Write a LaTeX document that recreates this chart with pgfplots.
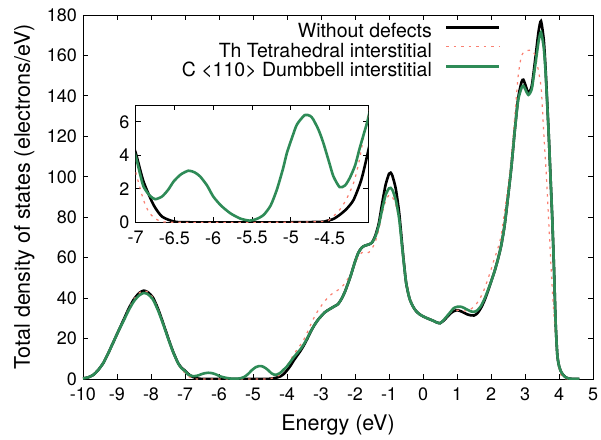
\documentclass[border=0pt]{standalone}
\usepackage{fontspec}
\setmainfont{TeX Gyre Heros}
\usepackage{pgfplots}
\pgfplotsset{compat=1.18}
\usepackage{pgfplotstable}
\definecolor{sgreen}{RGB}{46,139,87}
\definecolor{salmonred}{RGB}{250,128,114}

\pgfplotstableread{
E v
-10.0 0.3
-9.85 0.8
-9.7 2.0
-9.55 4.5
-9.4 8.0
-9.25 13.0
-9.1 18.5
-8.95 24.0
-8.8 29.5
-8.65 35.0
-8.5 39.5
-8.35 42.5
-8.22 43.7
-8.1 43.0
-7.95 40.5
-7.8 35.0
-7.65 28.0
-7.5 20.5
-7.35 13.5
-7.2 7.8
-7.1 5.5
-7.0 4.14
-6.9 2.44
-6.77 1.04
-6.66 0.34
-6.5 0.04
-6.3 0.0
-5.0 0.0
-4.6 0.03
-4.54 0.08
-4.45 0.2
-4.37 0.44
-4.28 0.8
-4.19 1.34
-4.09 2.54
-4.0 4.28
-3.9 6.5
-3.8 9.2
-3.7 11.6
-3.6 14.0
-3.5 16.8
-3.4 20.0
-3.3 23.5
-3.2 26.5
-3.1 29.0
-3.0 31.0
-2.9 32.8
-2.8 34.0
-2.7 35.0
-2.6 36.0
-2.5 37.0
-2.4 39.5
-2.3 43.0
-2.2 47.5
-2.1 52.5
-2.0 58.0
-1.9 62.5
-1.8 65.0
-1.7 66.0
-1.6 66.5
-1.5 67.5
-1.4 71.0
-1.3 77.0
-1.2 87.0
-1.1 96.0
-1.0 101.5
-0.95 102.0
-0.9 100.5
-0.8 94.0
-0.7 82.0
-0.6 64.0
-0.5 48.0
-0.4 40.0
-0.3 36.0
-0.2 33.5
-0.1 32.0
0.0 31.0
0.1 30.2
0.2 29.5
0.3 28.8
0.4 28.0
0.5 27.6
0.6 28.8
0.7 30.5
0.8 32.3
0.9 33.5
1.0 34.0
1.1 33.6
1.2 32.8
1.3 32.0
1.4 31.5
1.5 31.4
1.6 32.5
1.7 35.0
1.8 38.5
1.9 43.0
2.0 48.0
2.1 53.0
2.2 59.0
2.3 66.0
2.4 76.0
2.5 90.0
2.6 105.0
2.7 123.0
2.8 139.0
2.9 147.0
2.95 148.0
3.0 146.0
3.1 141.5
3.2 145.0
3.3 158.0
3.4 172.0
3.47 177.0
3.55 168.0
3.6 155.0
3.65 138.0
3.7 120.0
3.75 100.0
3.8 80.0
3.85 56.0
3.9 28.0
3.95 12.0
4.0 6.5
4.05 4.0
4.1 2.4
4.2 0.8
4.3 0.2
4.4 0.03
4.6 0.0
}\nodefect

\pgfplotstableread{
E v
-10.0 0.3
-9.85 0.8
-9.7 2.0
-9.55 4.5
-9.4 8.0
-9.25 13.0
-9.1 18.5
-8.95 24.0
-8.8 29.0
-8.65 34.2
-8.5 38.5
-8.35 41.3
-8.22 42.5
-8.1 42.0
-7.95 39.5
-7.8 34.2
-7.65 27.5
-7.5 20.2
-7.35 13.3
-7.2 7.7
-7.1 5.3
-7.0 3.94
-6.95 3.0
-6.9 2.14
-6.82 1.6
-6.75 1.38
-6.66 1.54
-6.58 1.95
-6.51 2.44
-6.42 2.85
-6.32 3.08
-6.24 2.98
-6.17 2.74
-6.08 2.2
-6.0 1.54
-5.9 1.0
-5.78 0.54
-5.65 0.22
-5.53 0.1
-5.44 0.2
-5.35 0.44
-5.26 1.0
-5.18 1.94
-5.1 3.2
-5.05 4.14
-4.98 5.1
-4.92 5.84
-4.82 6.4
-4.75 6.35
-4.71 6.14
-4.64 5.5
-4.58 4.74
-4.5 3.5
-4.45 2.74
-4.37 2.1
-4.3 2.2
-4.24 2.64
-4.17 3.4
-4.11 4.44
-4.05 5.4
-4.0 6.24
-3.9 8.5
-3.8 10.8
-3.7 12.8
-3.6 14.8
-3.5 17.3
-3.4 20.3
-3.3 23.6
-3.2 26.5
-3.1 29.0
-3.0 31.0
-2.9 32.8
-2.8 34.0
-2.7 35.0
-2.6 36.0
-2.5 37.0
-2.4 39.5
-2.3 43.0
-2.2 47.5
-2.1 52.5
-2.0 58.0
-1.9 62.5
-1.8 65.0
-1.7 66.0
-1.6 66.5
-1.5 67.5
-1.4 70.5
-1.3 76.0
-1.2 84.0
-1.1 91.0
-1.0 94.3
-0.95 94.5
-0.9 93.5
-0.8 88.5
-0.7 79.0
-0.6 63.0
-0.5 48.0
-0.4 40.0
-0.3 36.0
-0.2 33.5
-0.1 32.0
0.0 31.0
0.1 30.2
0.2 29.5
0.3 28.8
0.4 28.0
0.5 27.6
0.6 29.0
0.7 31.0
0.8 33.0
0.9 35.0
1.0 35.7
1.1 35.8
1.2 35.2
1.3 34.3
1.4 33.5
1.5 33.2
1.6 34.0
1.7 36.0
1.8 39.3
1.9 43.5
2.0 48.0
2.1 53.0
2.2 59.0
2.3 66.0
2.4 76.0
2.5 90.0
2.6 105.0
2.7 123.0
2.8 138.0
2.9 144.0
2.95 145.0
3.0 143.5
3.1 140.5
3.2 143.5
3.3 155.0
3.4 167.0
3.47 171.5
3.55 164.0
3.6 153.0
3.65 137.0
3.7 120.0
3.75 100.0
3.8 80.0
3.85 56.0
3.9 28.0
3.95 12.0
4.0 6.5
4.05 4.0
4.1 2.4
4.2 0.8
4.3 0.2
4.4 0.03
4.6 0.0
}\dumbbell

\pgfplotstableread{
E v
-10.0 0.3
-9.85 0.8
-9.7 2.0
-9.55 4.5
-9.4 8.0
-9.25 13.0
-9.1 18.5
-8.95 24.0
-8.8 29.5
-8.65 35.0
-8.5 39.5
-8.35 42.5
-8.22 43.7
-8.1 43.0
-7.95 40.5
-7.8 35.0
-7.65 28.0
-7.5 20.5
-7.35 13.5
-7.2 7.5
-7.1 4.8
-7.0 3.0
-6.9 1.34
-6.82 0.54
-6.7 0.1
-6.5 0.0
-5.0 0.0
-4.6 0.05
-4.5 0.15
-4.37 0.74
-4.28 1.4
-4.19 2.34
-4.12 3.6
-4.06 5.1
-4.0 6.5
-3.9 9.3
-3.8 12.2
-3.7 14.6
-3.6 17.0
-3.5 19.7
-3.4 23.2
-3.3 27.0
-3.2 30.5
-3.1 33.5
-3.0 36.0
-2.9 38.3
-2.8 40.2
-2.7 41.8
-2.6 43.0
-2.5 44.0
-2.4 45.3
-2.3 47.3
-2.2 49.8
-2.1 52.8
-2.0 57.0
-1.9 60.5
-1.8 62.5
-1.7 62.7
-1.6 62.5
-1.5 64.5
-1.4 68.0
-1.3 74.0
-1.2 82.0
-1.1 88.0
-1.0 91.0
-0.95 91.0
-0.9 90.0
-0.8 86.0
-0.7 78.0
-0.6 65.0
-0.5 50.0
-0.4 41.0
-0.3 36.5
-0.2 33.5
-0.1 32.0
0.0 31.0
0.1 30.2
0.2 29.5
0.3 28.8
0.4 28.0
0.5 27.8
0.6 29.5
0.7 31.3
0.8 32.8
0.9 33.7
1.0 34.0
1.1 33.9
1.2 33.6
1.3 33.8
1.4 34.5
1.5 35.8
1.6 37.8
1.7 40.6
1.8 44.3
1.9 49.0
2.0 54.0
2.1 59.5
2.2 64.5
2.3 71.0
2.4 83.0
2.5 95.0
2.6 110.0
2.7 130.0
2.8 150.0
2.9 160.0
3.0 162.0
3.1 162.5
3.2 162.5
3.3 160.0
3.4 152.0
3.48 143.0
3.55 122.0
3.63 100.0
3.7 77.0
3.78 51.0
3.85 32.0
3.92 17.8
3.97 9.0
4.02 3.6
4.1 0.8
4.2 0.1
4.3 0.0
4.6 0.0
}\tetra

\begin{document}
\fontsize{18}{21}\selectfont
\begin{tikzpicture}
\pgfplotsset{
  every tick label/.append style={font=\fontsize{18}{21}\selectfont},
  every axis label/.append style={font=\fontsize{21.5}{25}\selectfont},
  /pgf/number format/assume math mode=true,
}
\begin{axis}[
  at={(0,0)}, anchor=south west,
  scale only axis, width=510pt, height=364pt,
  xmin=-10, xmax=5, ymin=0, ymax=180,
  xtick={-10,-9,...,5},
  xticklabels={-10,-9,-8,-7,-6,-5,-4,-3,-2,-1,0,1,2,3,4,5},
  xticklabel style={yshift=-3pt},
  ytick={0,20,...,180},
  yticklabels={0,20,40,60,80,100,120,140,160,180},
  tick align=inside, major tick length=5pt,
  tick style={black, line width=0.8pt},
  axis line style={line width=0.9pt},
  xlabel={Energy (eV)}, ylabel={Total density of states (electrons/eV)},
  xlabel style={yshift=-1pt},
  legend plot pos=right,
  legend cell align=right,
  legend style={at={(0.819,0.977)}, anchor=north east, draw=none, fill=none,
    inner sep=0pt, column sep=13pt, row sep=0pt,
    font=\fontsize{19.5}{22}\selectfont,
    nodes={font=\fontsize{19.5}{22}\selectfont, inner xsep=0pt, inner ysep=0pt, text height=14pt, text depth=5.5pt}},
  legend image code/.code={\draw[#1] (0pt,0.33em) -- (53pt,0.33em);},
]
\addplot[black, line width=2.6pt, smooth, tension=0.4] table[x=E,y=v] {\nodefect};
\addlegendentry{Without defects}
\addplot[salmonred, line width=1.2pt, dash pattern=on 2.5pt off 5pt, smooth, tension=0.4] table[x=E,y=v] {\tetra};
\addlegendentry{Th Tetrahedral interstitial}
\addplot[sgreen, line width=2.6pt, smooth, tension=0.4] table[x=E,y=v] {\dumbbell};
\addlegendentry{C <110> Dumbbell interstitial}
\end{axis}
\begin{axis}[
  at={(52.7pt,156.7pt)}, anchor=south west,
  scale only axis, width=232.6pt, height=117.3pt,
  xmin=-7, xmax=-4, ymin=0, ymax=7,
  xtick={-7,-6.5,-6,-5.5,-5,-4.5},
  xticklabels={-7,-6.5,-6,-5.5,-5,-4.5},
  xticklabel style={yshift=-3pt},
  ytick={0,2,4,6},
  yticklabels={0,2,4,6},
  tick align=inside, major tick length=5pt,
  tick style={black, line width=0.8pt},
  axis line style={line width=0.9pt},
  axis background/.style={fill=white},
  clip=true,
]
\addplot[black, line width=2.6pt, smooth, tension=0.4] table[x=E,y=v] {\nodefect};
\addplot[salmonred, line width=1.2pt, dash pattern=on 2.5pt off 5pt, smooth, tension=0.4] table[x=E,y=v] {\tetra};
\addplot[sgreen, line width=2.6pt, smooth, tension=0.4] table[x=E,y=v] {\dumbbell};
\end{axis}
\pgfresetboundingbox
\path[use as bounding box] (-83pt,-60pt) rectangle (518pt,379pt);
\end{tikzpicture}
\end{document}
